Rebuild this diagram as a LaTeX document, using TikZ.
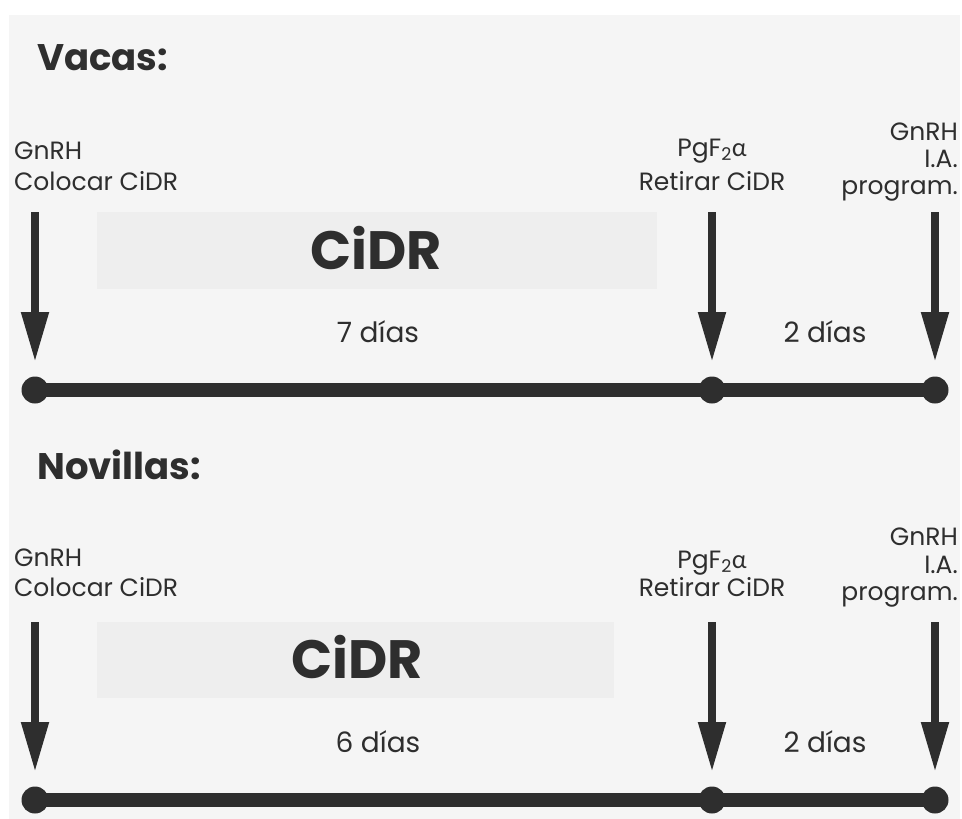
\documentclass[tikz,border=0pt]{standalone}
\usepackage{fontspec}
\setmainfont{Poppins}
\newfontfamily\grk{Lato}
\usetikzlibrary{arrows.meta}
\definecolor{bg}{HTML}{F5F5F5}
\definecolor{boxc}{HTML}{EEEEEE}
\definecolor{ink}{HTML}{2E2E2E}
\begin{document}
\begin{tikzpicture}[x=1pt,y=-1pt,
  title/.style={text=ink, inner sep=0pt, anchor=base west, font=\fontsize{37}{40}\selectfont\bfseries},
  lblL/.style={text=ink, inner sep=0pt, anchor=base west, font=\fontsize{25}{28}\selectfont},
  lblC/.style={text=ink, inner sep=0pt, anchor=base, font=\fontsize{25}{28}\selectfont},
  lblR/.style={text=ink, inner sep=0pt, anchor=base east, font=\fontsize{25}{28}\selectfont},
  dias/.style={text=ink, inner sep=0pt, anchor=base, font=\fontsize{28}{30}\selectfont},
  cidr/.style={text=ink, inner sep=0pt, anchor=base, font=\fontsize{54}{58}\selectfont\bfseries},
  cidrbox/.style={fill=boxc, draw=none},
  tline/.style={draw=ink, line width=14pt},
  dot/.style={circle, fill=ink, minimum size=27pt, inner sep=0pt},
  darrow/.style={draw=ink, line width=8pt, -{Triangle[width=26pt,length=50pt]}},
]
\useasboundingbox (0,0) rectangle (962,819);
\fill[bg] (9,15) rectangle (960,819);

% ---------- Vacas ----------
\node[title] (t1) at (37,70) {Vacas:};
\fill[cidrbox] (97,212) rectangle (657,289);
\node[cidr] (c1) at (376,269) {CiDR};

\node[lblL] (a1l1) at (14,159) {GnRH};
\node[lblL] (a1l2) at (14,190) {Colocar CiDR};
\node[lblC] (b1l1) at (712,156) {PgF\textsubscript{2}{\grk α}};
\node[lblC] (b1l2) at (712,190) {Retirar CiDR};
\node[lblR] (c1l1) at (958,140) {GnRH};
\node[lblR] (c1l2) at (958,167) {I.A.};
\node[lblR] (c1l3) at (958,194) {program.};

\node[dias] (d1a) at (378,342) {7 días};
\node[dias] (d1b) at (825,342) {2 días};

\node[dot] (p1a) at (35,390) {};
\node[dot] (p1b) at (712,390) {};
\node[dot] (p1c) at (935,390) {};
\draw[tline] (p1a.center) -- (p1b.center) -- (p1c.center);
\coordinate (s1a) at (35,212);  \coordinate (e1a) at (35,362);
\coordinate (s1b) at (712,212); \coordinate (e1b) at (712,362);
\coordinate (s1c) at (935,212); \coordinate (e1c) at (935,362);
\draw[darrow] (s1a) -- (e1a);
\draw[darrow] (s1b) -- (e1b);
\draw[darrow] (s1c) -- (e1c);

% ---------- Novillas ----------
\node[title] (t2) at (37,479) {Novillas:};
\fill[cidrbox] (97,622) rectangle (614,698);
\node[cidr] (c2) at (357,678) {CiDR};

\node[lblL] (a2l1) at (14,566) {GnRH};
\node[lblL] (a2l2) at (14,596) {Colocar CiDR};
\node[lblC] (b2l1) at (712,568) {PgF\textsubscript{2}{\grk α}};
\node[lblC] (b2l2) at (712,596) {Retirar CiDR};
\node[lblR] (c2l1) at (958,545) {GnRH};
\node[lblR] (c2l2) at (958,573) {I.A.};
\node[lblR] (c2l3) at (958,600) {program.};

\node[dias] (d2a) at (378,752) {6 días};
\node[dias] (d2b) at (825,752) {2 días};

\node[dot] (p2a) at (35,800) {};
\node[dot] (p2b) at (712,800) {};
\node[dot] (p2c) at (935,800) {};
\draw[tline] (p2a.center) -- (p2b.center) -- (p2c.center);
\coordinate (s2a) at (35,622);  \coordinate (e2a) at (35,772);
\coordinate (s2b) at (712,622); \coordinate (e2b) at (712,772);
\coordinate (s2c) at (935,622); \coordinate (e2c) at (935,772);
\draw[darrow] (s2a) -- (e2a);
\draw[darrow] (s2b) -- (e2b);
\draw[darrow] (s2c) -- (e2c);
\end{tikzpicture}
\end{document}
